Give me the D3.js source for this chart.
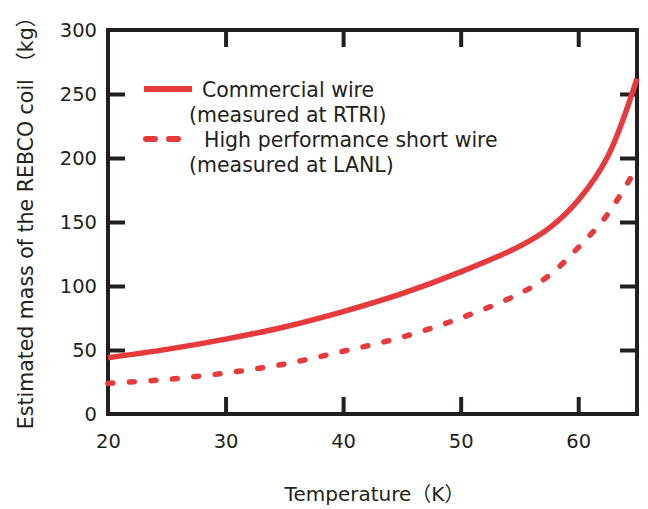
<!DOCTYPE html>
<html>
<head>
<meta charset="utf-8">
<script src="https://cdn.jsdelivr.net/npm/d3@7"></script>
<style>
  body { margin: 0; background: #fff; }
  text { font-family: "DejaVu Sans", "Noto Sans CJK JP", sans-serif; fill: #231f20; }
</style>
</head>
<body>
<svg id="chart" width="648" height="509"></svg>
<script>
// data
const temps = [20, 25, 30, 35, 40, 45, 50, 55, 57.5, 60, 62.5, 65];
const commercial = [44, 50.5, 58.5, 68, 80, 94, 111, 131, 145, 167, 201, 262];
const highPerf = [24, 27, 32, 39, 49, 60, 75, 94, 108, 130, 156, 193];
const xTicks = [20, 30, 40, 50, 60];
const yTicks = [0, 50, 100, 150, 200, 250, 300];
const legendLabels = [
  ["Commercial wire", "(measured at RTRI)"],
  ["High performance short wire", "(measured at LANL)"]
];

const red = "#e73a3d";
const ink = "#231f20";
const font = "'DejaVu Sans', 'Noto Sans CJK JP', sans-serif";

var svg = d3.select("svg#chart");
var margin = {left: 108, right: 11, top: 30, bottom: 95};
var width = 648 - margin.left - margin.right,
    height = 509 - margin.top - margin.bottom;

var x = d3.scaleLinear().domain([20, 65]).range([0, width]);
var y = d3.scaleLinear().domain([0, 300]).range([height, 0]);

var g = svg.append("g").attr("transform", `translate(${margin.left},${margin.top})`);

// axes, ticks pointing inward
var axBottom = g.append("g")
    .attr("transform", `translate(0,${height})`)
    .call(d3.axisBottom(x).tickValues(xTicks).tickSizeInner(-17).tickSizeOuter(0).tickPadding(20));
var axLeft = g.append("g")
    .call(d3.axisLeft(y).tickValues(yTicks).tickSizeInner(-17).tickSizeOuter(0).tickPadding(11));
var axTop = g.append("g")
    .call(d3.axisTop(x).tickValues(xTicks.slice(1)).tickSizeInner(-17).tickSizeOuter(0).tickFormat(""));
var axRight = g.append("g")
    .attr("transform", `translate(${width},0)`)
    .call(d3.axisRight(y).tickValues(yTicks.slice(1, -1)).tickSizeInner(-17).tickSizeOuter(0).tickFormat(""));

// first x tick and the 0/300 y ticks sit on the frame
axBottom.selectAll(".tick line").filter(d => d === 20).remove();
axLeft.selectAll(".tick line").filter(d => d === 0 || d === 300).remove();

[axBottom, axLeft, axTop, axRight].forEach(a => {
  a.select(".domain").remove();
  a.selectAll(".tick line").attr("stroke", ink).attr("stroke-width", 4);
  a.selectAll("text").attr("font-size", 19.5).attr("fill", ink).style("font-family", font);
});

// frame
g.append("rect")
    .attr("width", width).attr("height", height)
    .attr("fill", "none").attr("stroke", ink).attr("stroke-width", 4);

// curves
var line = d3.line().curve(d3.curveCatmullRom.alpha(0.5)).x(d => x(d[0])).y(d => y(d[1]));

g.append("path")
    .datum(temps.map((t, i) => [t, commercial[i]]))
    .attr("d", line)
    .attr("fill", "none").attr("stroke", red).attr("stroke-width", 5.5);

g.append("path")
    .datum(temps.map((t, i) => [t, highPerf[i]]))
    .attr("d", line)
    .attr("fill", "none").attr("stroke", red).attr("stroke-width", 5.5)
    .attr("stroke-linecap", "round")
    .attr("stroke-dasharray", "5,16.5");

// legend
var legend = svg.append("g");
legend.append("line")
    .attr("x1", 144).attr("x2", 192).attr("y1", 89).attr("y2", 89)
    .attr("stroke", red).attr("stroke-width", 6);
legend.append("line")
    .attr("x1", 146).attr("x2", 181).attr("y1", 139).attr("y2", 139)
    .attr("stroke", red).attr("stroke-width", 6)
    .attr("stroke-linecap", "round").attr("stroke-dasharray", "9,14");

legend.append("text").attr("x", 202).attr("y", 97).attr("font-size", 20.5).text(legendLabels[0][0]);
legend.append("text").attr("x", 189).attr("y", 122).attr("font-size", 20.5).text(legendLabels[0][1]);
legend.append("text").attr("x", 204).attr("y", 147).attr("font-size", 20.5).text(legendLabels[1][0]);
legend.append("text").attr("x", 189).attr("y", 172).attr("font-size", 20.5).text(legendLabels[1][1]);

// axis titles
svg.append("text")
    .attr("x", margin.left + width / 2 + 2).attr("y", 501)
    .attr("text-anchor", "middle").attr("font-size", 20)
    .text("Temperature（K）");

svg.append("text")
    .attr("transform", `translate(33,${margin.top + height / 2 - 4}) rotate(-90)`)
    .attr("text-anchor", "middle").attr("font-size", 20.5)
    .text("Estimated mass of the REBCO coil （kg）");
</script>
</body>
</html>
